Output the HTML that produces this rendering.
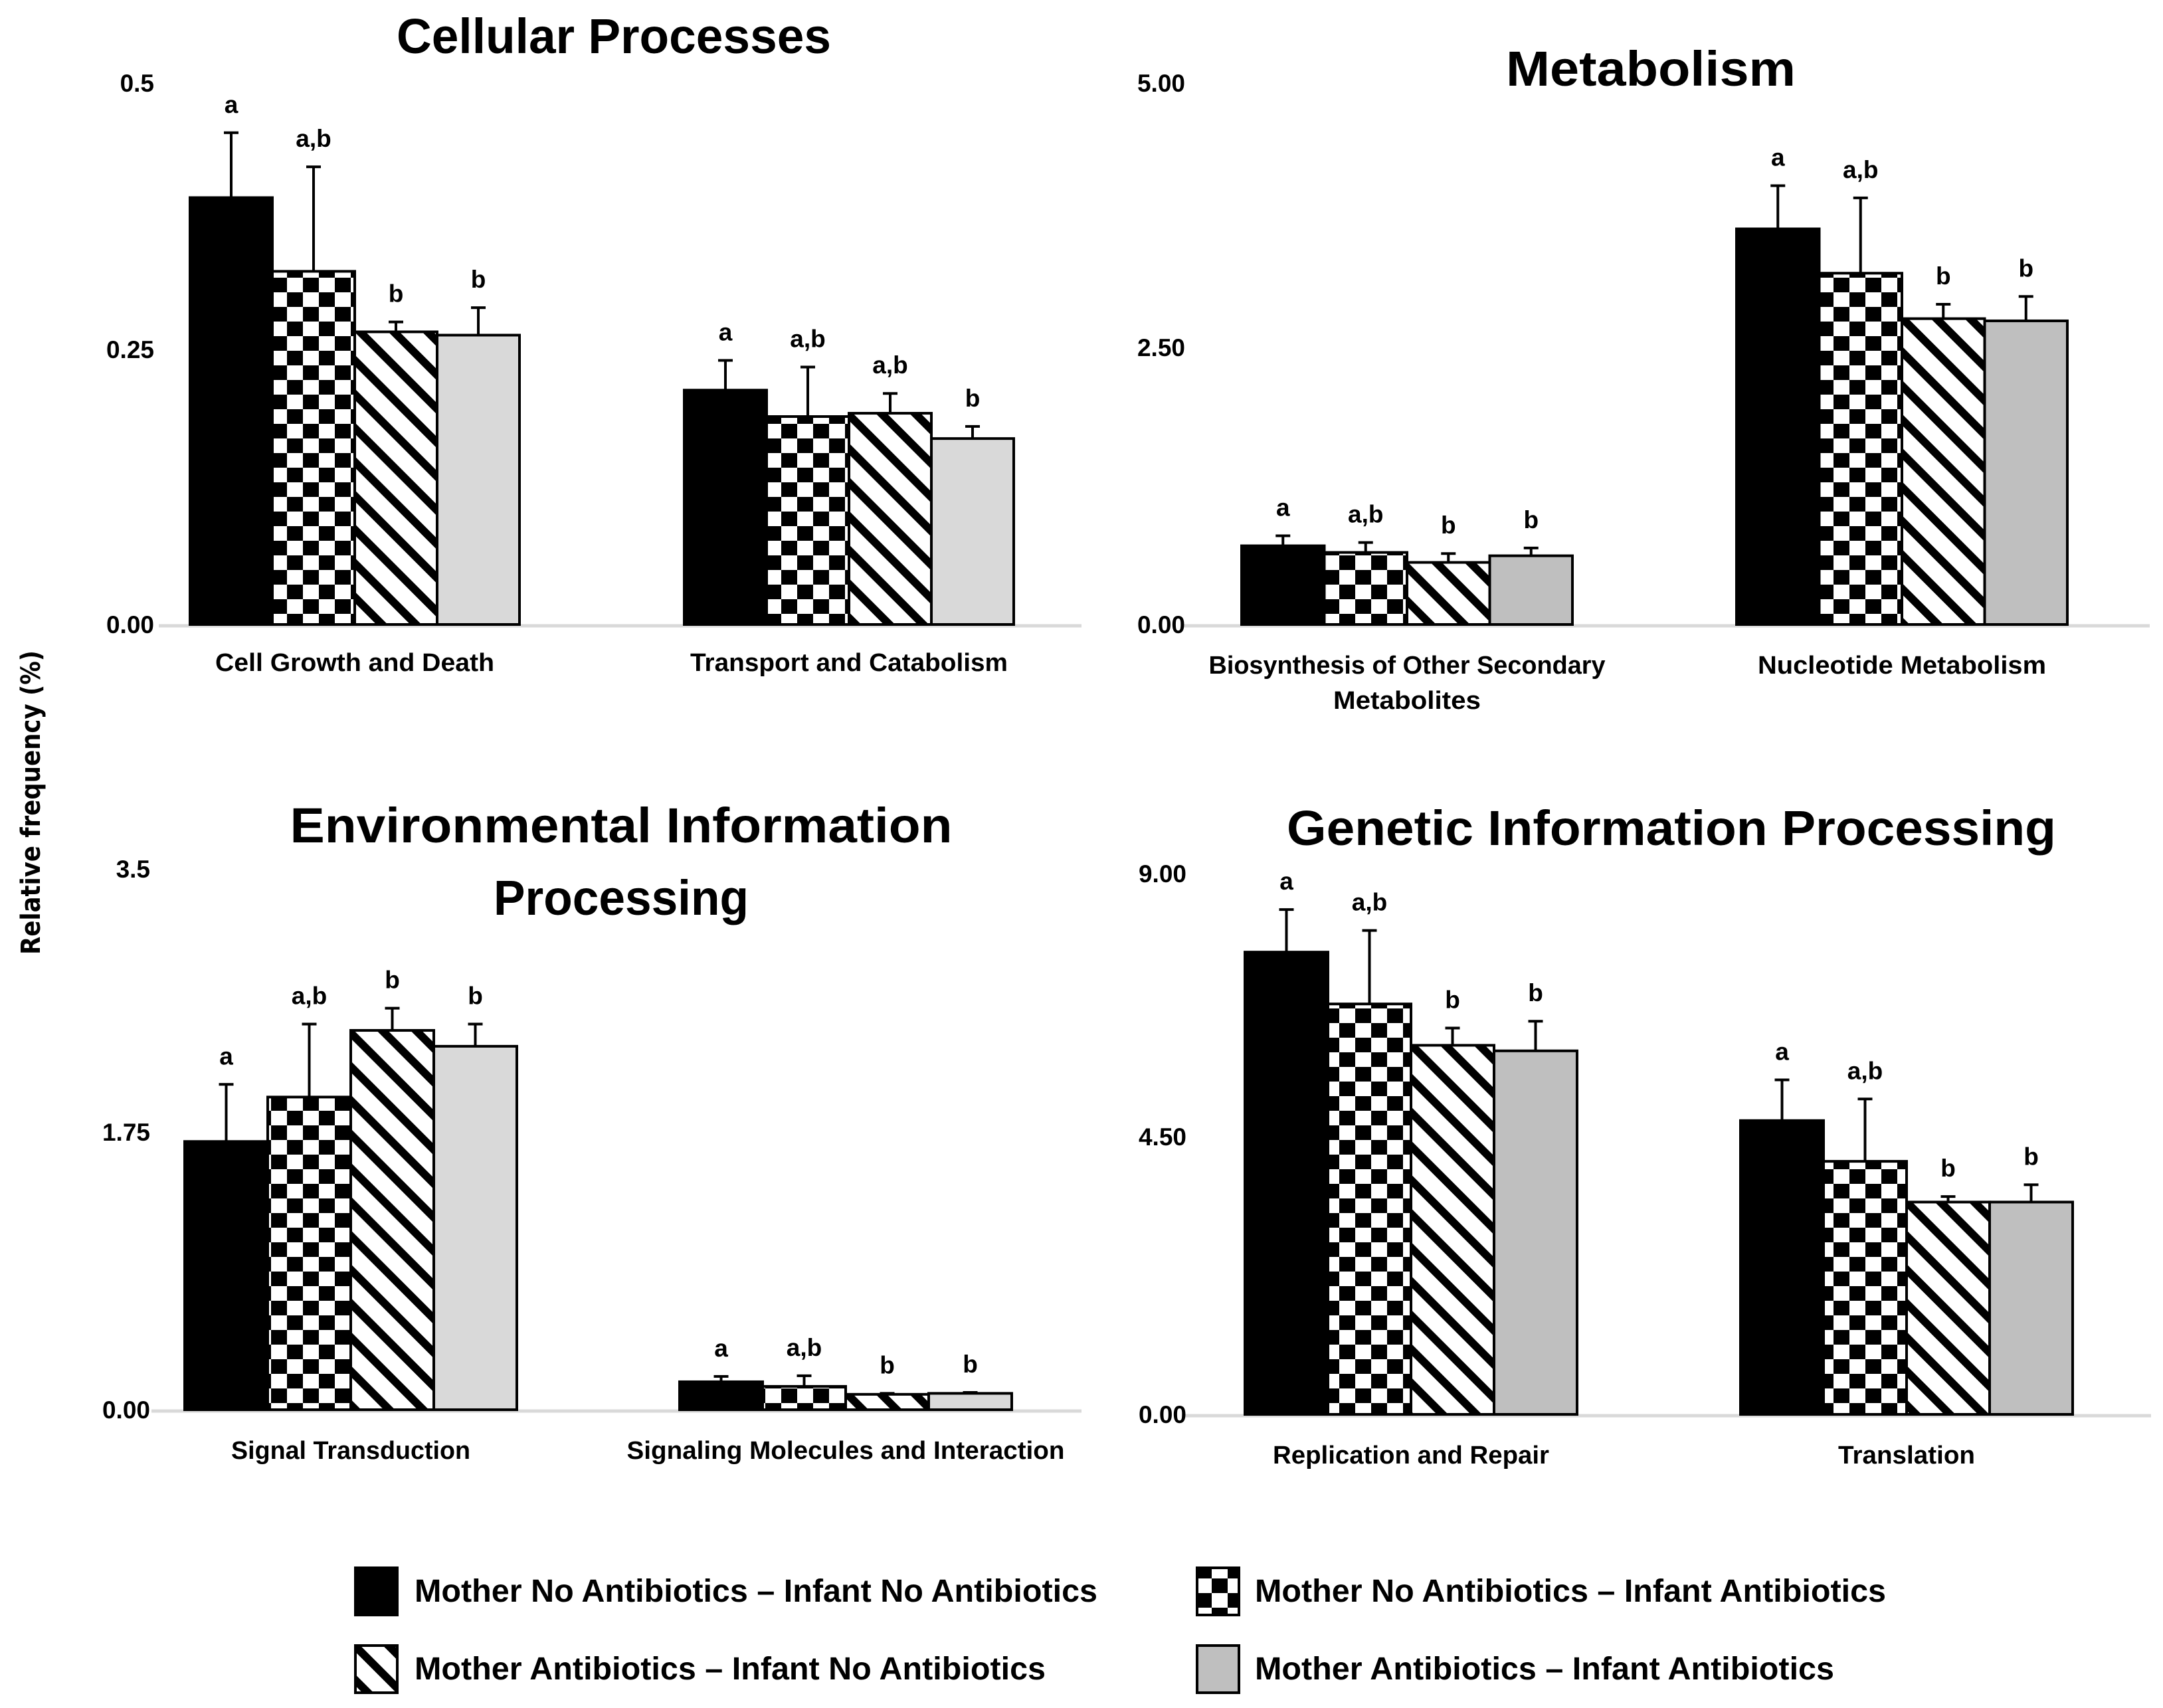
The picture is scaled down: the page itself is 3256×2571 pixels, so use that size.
<!DOCTYPE html>
<html><head><meta charset="utf-8">
<style>
html,body{margin:0;padding:0;background:#fff;}
svg{display:block;}
text{font-family:"Liberation Sans",sans-serif;font-weight:bold;fill:#000;}
</style></head>
<body>
<svg id="chart" width="3256" height="2571" viewBox="0 0 3256 2571" xmlns="http://www.w3.org/2000/svg">
<defs>
<pattern id="checker" patternUnits="userSpaceOnUse" width="48" height="44">
<rect width="48" height="44" fill="#fff"/>
<rect x="0" y="0" width="24" height="22" fill="#000"/>
<rect x="24" y="22" width="24" height="22" fill="#000"/>
</pattern>
<pattern id="stripe" patternUnits="userSpaceOnUse" width="36" height="36" patternTransform="rotate(45)">
<rect width="36" height="36" fill="#fff"/>
<rect x="0" y="0" width="36" height="12" fill="#000"/>
</pattern>
</defs>
<text transform="translate(60,1208) rotate(-90)" text-anchor="middle" font-size="40" textLength="458" lengthAdjust="spacingAndGlyphs" style="font-family:'DejaVu Sans',sans-serif">Relative frequency (%)</text>
<g id="legend">
<rect x="535" y="2360" width="63" height="71" fill="#000" stroke="#000" stroke-width="4"/>
<text x="624" y="2411" font-size="48" textLength="1028" lengthAdjust="spacingAndGlyphs">Mother No Antibiotics – Infant No Antibiotics</text>
<rect x="1802" y="2360" width="63" height="71" fill="url(#checker)" stroke="#000" stroke-width="4"/>
<text x="1889" y="2411" font-size="48" textLength="950" lengthAdjust="spacingAndGlyphs">Mother No Antibiotics – Infant Antibiotics</text>
<rect x="535" y="2477" width="63" height="71" fill="url(#stripe)" stroke="#000" stroke-width="4"/>
<text x="624" y="2528" font-size="48" textLength="950" lengthAdjust="spacingAndGlyphs">Mother Antibiotics – Infant No Antibiotics</text>
<rect x="1802" y="2477" width="63" height="71" fill="#bfbfbf" stroke="#000" stroke-width="4"/>
<text x="1889" y="2528" font-size="48" textLength="872" lengthAdjust="spacingAndGlyphs">Mother Antibiotics – Infant Antibiotics</text>
</g>
</svg>
<script>
// ---- data ----
const p1Categories = ["Cell Growth and Death", "Transport and Catabolism"];
const p1Values = [[0.388, 0.321, 0.266, 0.263], [0.213, 0.189, 0.192, 0.169]];
const p1Errors = [[0.447, 0.416, 0.275, 0.288], [0.240, 0.234, 0.210, 0.180]];
const p1Letters = [["a", "a,b", "b", "b"], ["a", "a,b", "a,b", "b"]];
const p1Ticks = ["0.00", "0.25", "0.5"];
const p1TickValues = [0, 0.25, 0.5];

const p2Categories = ["Biosynthesis of Other Secondary|Metabolites", "Nucleotide Metabolism"];
const p2Values = [[0.71, 0.65, 0.56, 0.62], [3.57, 3.17, 2.76, 2.74]];
const p2Errors = [[0.80, 0.74, 0.64, 0.69], [3.96, 3.85, 2.89, 2.96]];
const p2Letters = [["a", "a,b", "b", "b"], ["a", "a,b", "b", "b"]];
const p2Ticks = ["0.00", "2.50", "5.00"];
const p2TickValues = [0, 2.5, 5];

const p3Categories = ["Signal Transduction", "Signaling Molecules and Interaction"];
const p3Values = [[1.69, 1.97, 2.39, 2.29], [0.176, 0.147, 0.097, 0.103]];
const p3Errors = [[2.05, 2.43, 2.53, 2.43], [0.21, 0.214, 0.103, 0.109]];
const p3Letters = [["a", "a,b", "b", "b"], ["a", "a,b", "b", "b"]];
const p3Ticks = ["0.00", "1.75", "3.5"];
const p3TickValues = [0, 1.75, 3.5];

const p4Categories = ["Replication and Repair", "Translation"];
const p4Values = [[7.49, 6.65, 5.98, 5.89], [4.76, 4.10, 3.44, 3.44]];
const p4Errors = [[8.18, 7.84, 6.26, 6.37], [5.42, 5.11, 3.53, 3.72]];
const p4Letters = [["a", "a,b", "b", "b"], ["a", "a,b", "b", "b"]];
const p4Ticks = ["0.00", "4.50", "9.00"];
const p4TickValues = [0, 4.5, 9];

const NS = "http://www.w3.org/2000/svg";
const svg = document.getElementById("chart");
function mk(tag, attrs, parent) {
  const e = document.createElementNS(NS, tag);
  for (const k in attrs) e.setAttribute(k, attrs[k]);
  parent.appendChild(e);
  return e;
}

function panel(cfg) {
  const g = mk("g", {}, svg);
  
  
  const y = v => cfg.base - v * cfg.ppu;
  cfg.titles.forEach(t => {
    const tt = mk("text", {x: cfg.titleX, y: t.y, "font-size": 74, "text-anchor": "middle", textLength: t.w, lengthAdjust: "spacingAndGlyphs"}, g);
    
    
    tt.textContent = t.s;
  });
  const ax = mk("line", {x1: cfg.axX1, x2: cfg.axX2, y1: cfg.base + 2, y2: cfg.base + 2, stroke: "#d9d9d9", "stroke-width": 5}, g);
  
  
  cfg.ticks.forEach((lab, i) => {
    let ty = y(cfg.tickValues[i]) + 13;
    if (i === cfg.ticks.length - 1) ty = cfg.topLabelY;
    const t = mk("text", {x: cfg.tickX, y: ty, "font-size": 37, "text-anchor": "end"}, g);
    
    
    t.textContent = lab;
  });
  const fills = ["#000", "url(#checker)", "url(#stripe)", cfg.grey];
  cfg.values.forEach((grp, gi) => {
    const gx = cfg.groupX[gi];
    grp.forEach((v, si) => {
      const bx = gx + si * cfg.bw;
      const top = y(v);
      const r = mk("rect", {x: bx, y: top, width: cfg.bw, height: cfg.base - top, fill: fills[si], stroke: "#000", "stroke-width": 4}, g);
      
      
      const cx = bx + cfg.bw / 2;
      const et = y(cfg.errors[gi][si]);
      const el = mk("path", {d: `M${cx},${top} V${et} M${cx-11},${et} H${cx+11}`, stroke: "#000", "stroke-width": 4, fill: "none"}, g);
      
      
      const lt = mk("text", {x: cx, y: et - 30, "font-size": 37, "text-anchor": "middle"}, g);
      
      
      lt.textContent = cfg.letters[gi][si];
    });
    const lines = cfg.categories[gi].split("|");
    lines.forEach((s, li) => {
      const ct = mk("text", {x: gx + 2 * cfg.bw, y: cfg.catY + li * 53, "font-size": 38, "text-anchor": "middle", textLength: cfg.catW[gi][li], lengthAdjust: "spacingAndGlyphs"}, g);
      
      
      ct.textContent = s;
    });
  });
}

panel({name: "cellular-processes-panel", base: 940, ppu: 1656, groupX: [286, 1030], bw: 124, grey: "#d9d9d9",
  values: p1Values, errors: p1Errors, letters: p1Letters, categories: p1Categories, ticks: p1Ticks, tickValues: p1TickValues,
  titleX: 924, titles: [{s: "Cellular Processes", y: 80, w: 654}], axX1: 239, axX2: 1628, tickX: 232, topLabelY: 138,
  catY: 1010, catW: [[420], [478]]});
panel({name: "metabolism-panel", base: 940, ppu: 166.8, groupX: [1869, 2614], bw: 124.5, grey: "#bfbfbf",
  values: p2Values, errors: p2Errors, letters: p2Letters, categories: p2Categories, ticks: p2Ticks, tickValues: p2TickValues,
  titleX: 2485, titles: [{s: "Metabolism", y: 129, w: 436}], axX1: 1779, axX2: 3236, tickX: 1784, topLabelY: 138,
  catY: 1014, catW: [[597, 222], [434]]});
panel({name: "environmental-information-panel", base: 2122, ppu: 238.9, groupX: [278, 1023], bw: 125, grey: "#d9d9d9",
  values: p3Values, errors: p3Errors, letters: p3Letters, categories: p3Categories, ticks: p3Ticks, tickValues: p3TickValues,
  titleX: 935, titles: [{s: "Environmental Information", y: 1268, w: 997}, {s: "Processing", y: 1377, w: 384}], axX1: 228, axX2: 1628, tickX: 226, topLabelY: 1321,
  catY: 2196, catW: [[360], [659]]});
panel({name: "genetic-information-panel", base: 2129, ppu: 92.9, groupX: [1874, 2620], bw: 125, grey: "#bfbfbf",
  values: p4Values, errors: p4Errors, letters: p4Letters, categories: p4Categories, ticks: p4Ticks, tickValues: p4TickValues,
  titleX: 2516, titles: [{s: "Genetic Information Processing", y: 1272, w: 1158}], axX1: 1779, axX2: 3238, tickX: 1786, topLabelY: 1328,
  catY: 2203, catW: [[416], [206]]});
</script>
</body></html>
